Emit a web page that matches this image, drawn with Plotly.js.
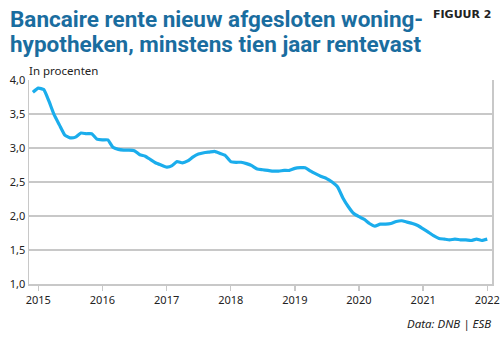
<!DOCTYPE html>
<html>
<head>
<meta charset="utf-8">
<script src="https://cdn.plot.ly/plotly-3.0.1.min.js"></script>
<style>html,body{margin:0;padding:0;background:#fff;}#chart{width:500px;height:337px;}</style>
</head>
<body>
<div id="chart"></div>
<script>
// Monthly data, Dec 2014 - Jan 2022
const months = [];
(function(){
  let y = 2014, m = 12;
  for (let i = 0; i < 86; i++) {
    months.push(y + "-" + String(m).padStart(2, "0") + "-01");
    m++; if (m > 12) { m = 1; y++; }
  }
})();
const rente = [
  3.82,
  3.88, 3.86, 3.70, 3.49, 3.34, 3.19, 3.15, 3.16, 3.22, 3.21, 3.21, 3.13,
  3.12, 3.12, 3.01, 2.98, 2.97, 2.97, 2.96, 2.90, 2.88, 2.83, 2.78, 2.75,
  2.72, 2.74, 2.80, 2.78, 2.81, 2.87, 2.91, 2.93, 2.94, 2.95, 2.92, 2.89,
  2.80, 2.79, 2.79, 2.77, 2.74, 2.69, 2.68, 2.67, 2.66, 2.66, 2.67, 2.67,
  2.70, 2.71, 2.71, 2.66, 2.62, 2.58, 2.55, 2.50, 2.43, 2.27, 2.14, 2.04,
  1.99, 1.95, 1.89, 1.85, 1.88, 1.88, 1.89, 1.92, 1.93, 1.91, 1.89, 1.86,
  1.81, 1.76, 1.71, 1.67, 1.66, 1.65, 1.66, 1.65, 1.65, 1.64, 1.66, 1.64,
  1.66
];
const yTicks = [1.0, 1.5, 2.0, 2.5, 3.0, 3.5, 4.0];
const xTickVals = ["2015-01-01","2016-01-01","2017-01-01","2018-01-01","2019-01-01","2020-01-01","2021-01-01","2022-01-01"];
const xTickText = ["2015","2016","2017","2018","2019","2020","2021","2022"];
const titleLines = ["Bancaire rente nieuw afgesloten woning-", "hypotheken, minstens tien jaar rentevast"];

const titleFont = "'Liberation Sans Narrow', 'Roboto', 'Noto Sans', sans-serif";
const bodyFont = "'Noto Sans', 'Open Sans', sans-serif";
const titleStyle = {family: titleFont, size: 22.5, color: "#1a6d9f"};

Plotly.newPlot("chart", [{
  x: months,
  y: rente,
  type: "scatter",
  mode: "lines",
  line: {color: "#1badec", width: 3.2, shape: "spline", smoothing: 0.4},
  hoverinfo: "skip"
}], {
  width: 500, height: 337,
  margin: {l: 29, r: 8, t: 80, b: 53},
  paper_bgcolor: "#fff", plot_bgcolor: "#fff",
  separators: ", ",
  showlegend: false,
  font: {family: bodyFont, size: 11, color: "#222"},
  xaxis: {
    type: "date",
    range: ["2014-11-09", "2022-01-28"],
    tickvals: xTickVals, ticktext: xTickText,
    showgrid: false, zeroline: false,
    showline: true, linecolor: "#c8c8c8", linewidth: 1.5,
    ticks: "outside", ticklen: 5, tickcolor: "#c8c8c8", tickwidth: 1.5,
    tickfont: {size: 11, color: "#222"}
  },
  yaxis: {
    range: [1.0, 4.0],
    tickvals: yTicks, tickformat: ".1f",
    showgrid: true, gridcolor: "#c8c8c8", gridwidth: 1.5,
    zeroline: false,
    showline: true, mirror: true, linecolor: "#c8c8c8", linewidth: 1.5,
    ticks: "", ticklen: 0,
    tickfont: {size: 11, color: "#222"}
  },
  annotations: [
    {text: "<b>" + titleLines[0] + "</b>", xref: "paper", yref: "paper", x: -0.045, y: 1.299,
     xanchor: "left", yanchor: "middle", showarrow: false, font: titleStyle},
    {text: "<b>" + titleLines[1] + "</b>", xref: "paper", yref: "paper", x: -0.045, y: 1.176,
     xanchor: "left", yanchor: "middle", showarrow: false, font: titleStyle},
    {text: "<b>FIGUUR 2</b>", xref: "paper", yref: "paper", x: 1.002, y: 1.319,
     xanchor: "right", yanchor: "middle", showarrow: false,
     font: {family: "'DejaVu Sans', sans-serif", size: 11, color: "#222"}},
    {text: "In procenten", xref: "paper", yref: "paper", x: -0.004, y: 1.047,
     xanchor: "left", yanchor: "middle", showarrow: false,
     font: {family: bodyFont, size: 11.5, color: "#222"}},
    {text: "<i>Data: DNB | ESB</i>", xref: "paper", yref: "paper", x: 1.002, y: -0.195,
     xanchor: "right", yanchor: "middle", showarrow: false,
     font: {family: bodyFont, size: 11.5, color: "#222"}}
  ]
}, {displayModeBar: false, staticPlot: true});
</script>
</body>
</html>
